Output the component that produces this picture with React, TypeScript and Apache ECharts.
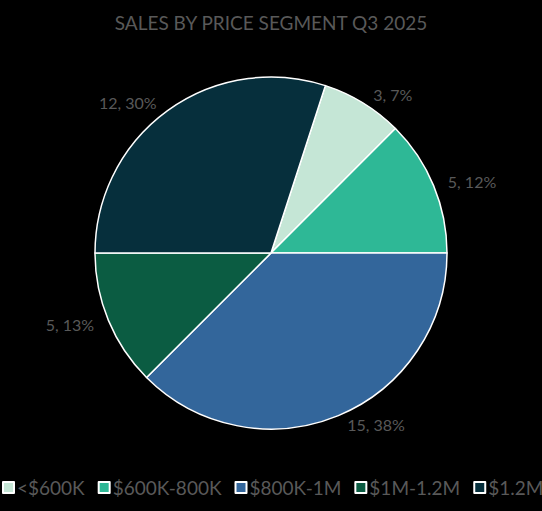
import React, { useEffect, useRef } from "react";
import * as echarts from "echarts";

const TITLE = "SALES BY PRICE SEGMENT Q3 2025";
const categories = ["<$600K", "$600K-800K", "$800K-1M", "$1M-1.2M", "$1.2M+"];
const salesValues = [3, 5, 15, 5, 12];
const percentLabels = ["7%", "12%", "38%", "13%", "30%"];
const colors = ["#c5e6d6", "#2eb896", "#33669b", "#0b5c42", "#062f3c"];

const TEXT = "#595959";
const FONT = "Lato, 'Open Sans', sans-serif";

export default function App() {
  const ref = useRef<HTMLDivElement>(null);
  useEffect(() => {
    if (!ref.current) return;
    const chart = echarts.init(ref.current, undefined, { renderer: "svg" });
    chart.setOption({
      animation: false,
      backgroundColor: "#000",
      textStyle: { fontFamily: FONT },
      title: {
        text: TITLE,
        left: "center",
        top: 13,
        padding: 0,
        textStyle: { color: TEXT, fontSize: 19, fontWeight: "normal", fontFamily: FONT },
      },
      legend: {
        left: 2,
        top: 478,
        padding: 0,
        width: 2000,
        orient: "horizontal",
        itemWidth: 11,
        itemHeight: 11,
        itemGap: 13,
        icon: "rect",
        itemStyle: { borderColor: "#fff", borderWidth: 2 },
        textStyle: { color: TEXT, fontSize: 19, fontFamily: FONT, padding: [0, 0, 0, -2] },
        data: categories,
      },
      series: [
        {
          type: "pie",
          center: [271, 253],
          radius: 176,
          startAngle: 72,
          clockwise: true,
          color: colors,
          itemStyle: { borderColor: "#fff", borderWidth: 1.5 },
          label: {
            show: true,
            position: "outside",
            color: TEXT,
            fontSize: 16,
            fontFamily: FONT,
            formatter: (p: any) => `${p.value}, ${percentLabels[p.dataIndex]}`,
          },
          labelLine: { show: false, length: 10, length2: 0 },
          emphasis: { disabled: true },
          data: categories.map((c, i) => ({ name: c, value: salesValues[i] })),
        },
      ],
    });
    return () => chart.dispose();
  }, []);
  return (
    <div
      ref={ref}
      style={{ position: "absolute", left: 0, top: 0, width: 542, height: 511, background: "#000" }}
    />
  );
}
